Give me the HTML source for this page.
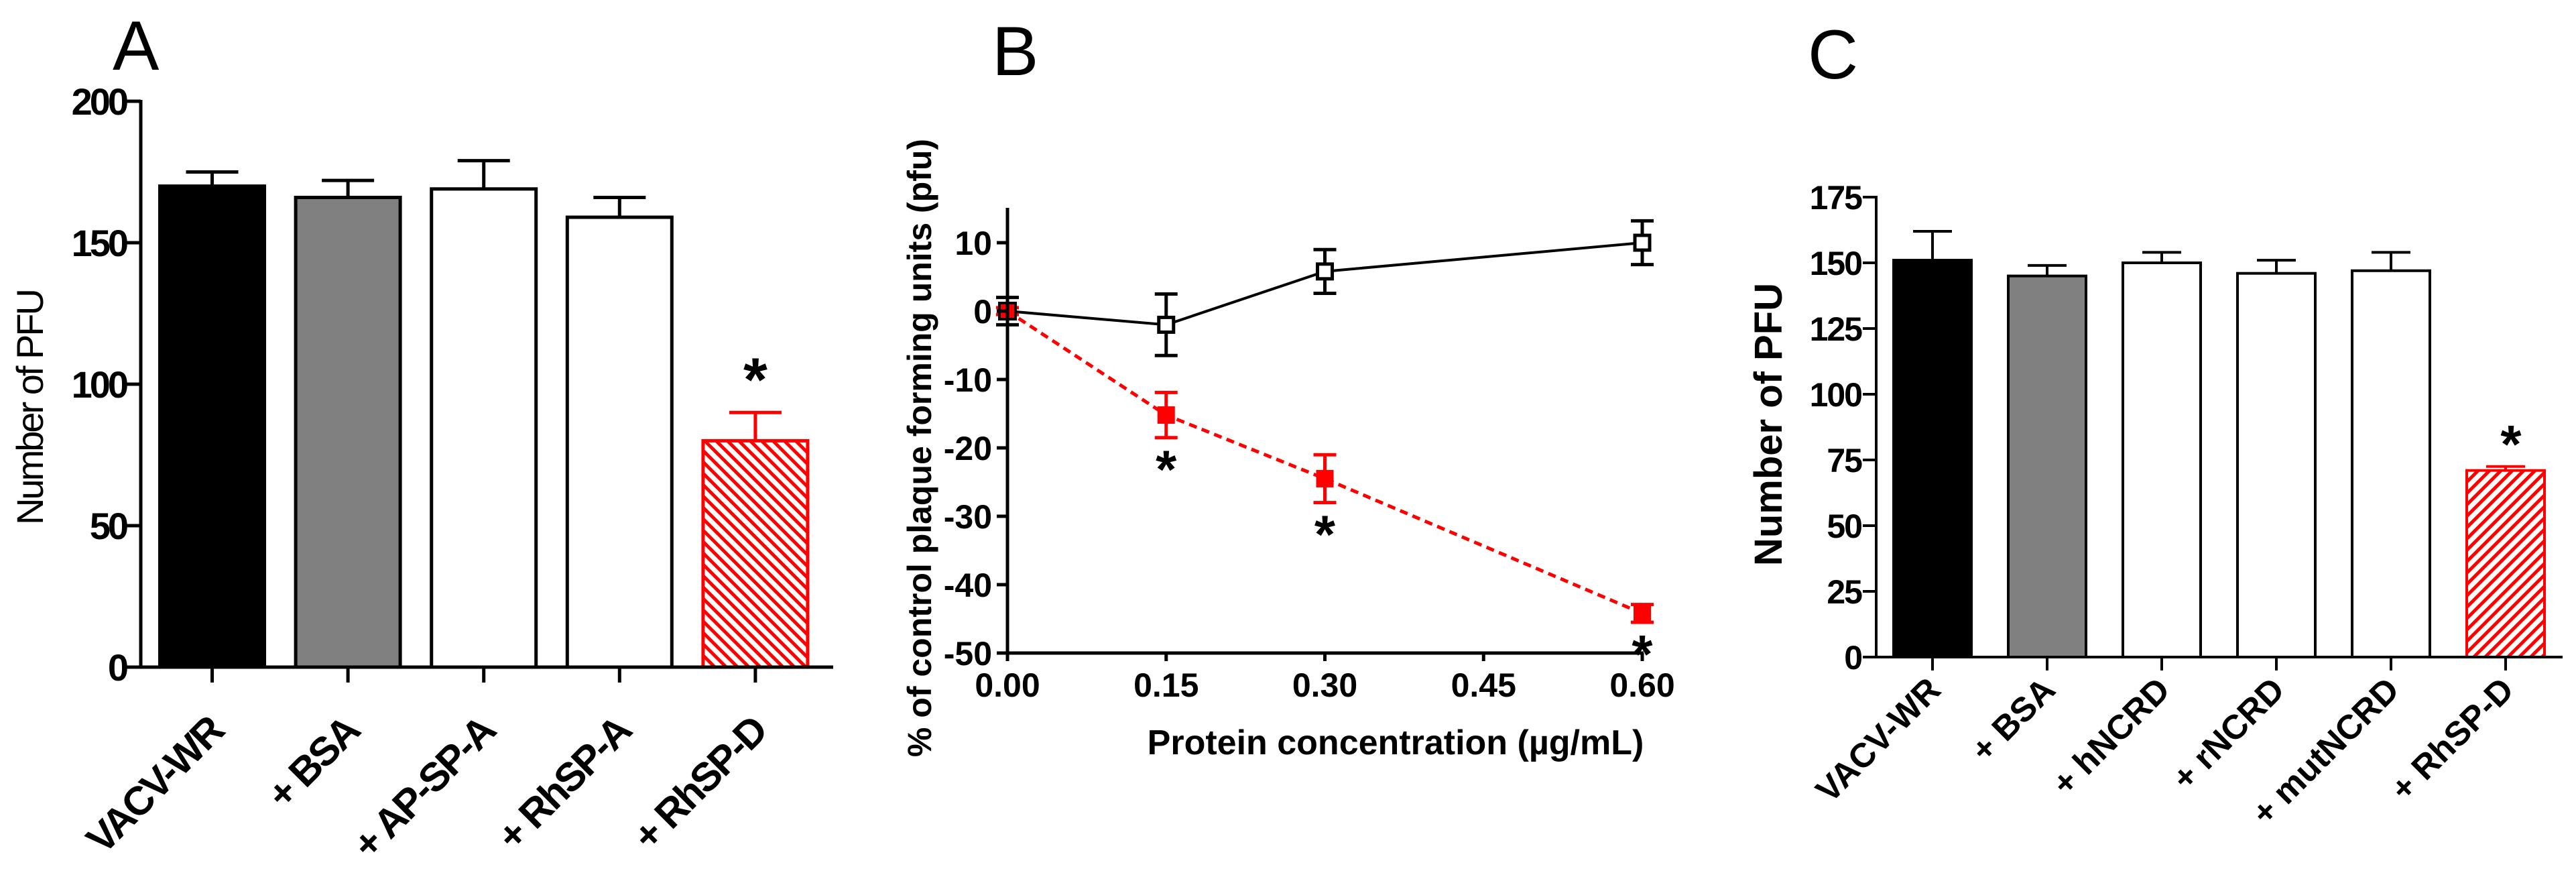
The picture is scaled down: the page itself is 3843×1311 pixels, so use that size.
<!DOCTYPE html>
<html><head><meta charset="utf-8"><style>
html,body{margin:0;padding:0;background:#fff;}
svg{display:block;font-family:"Liberation Sans",Arial,sans-serif;}
</style></head><body>
<svg id="fig" width="3843" height="1311" viewBox="0 0 3843 1311" xmlns="http://www.w3.org/2000/svg">
<defs>
<pattern id="hatchA" patternUnits="userSpaceOnUse" width="12" height="12" patternTransform="rotate(-45)">
<rect width="12" height="12" fill="#fff"/><rect width="5" height="12" fill="#f00"/></pattern>
<pattern id="hatchC" patternUnits="userSpaceOnUse" width="12" height="12" patternTransform="rotate(45)">
<rect width="12" height="12" fill="#fff"/><rect width="5" height="12" fill="#f00"/></pattern>
</defs>
<text x="168" y="104" font-size="104">A</text>
<text x="1480" y="112" font-size="104">B</text>
<text x="2697" y="117" font-size="104">C</text>
<g id="gA"></g>
<g id="gB"></g>
<g id="gC"></g>
</svg>
<script>
// Panel A data
const catsA = ["VACV-WR", "+ BSA", "+ AP-SP-A", "+ RhSP-A", "+ RhSP-D"];
const valsA = [170, 166, 169, 159, 80];
const errA = [5, 6, 10, 7, 10];
const ticksA = [0, 50, 100, 150, 200];
// Panel B data
const xB = [0, 0.15, 0.30, 0.60];
const ctrlB = [0, -2, 5.8, 10];
const ctrlErrB = [2, 4.5, 3.2, 3.2];
const spdB = [0, -15.2, -24.5, -44.2];
const spdErrB = [0.5, 3.3, 3.5, 1.3];
const xTicksB = ["0.00", "0.15", "0.30", "0.45", "0.60"];
const yTicksB = [10, 0, -10, -20, -30, -40, -50];
// Panel C data
const catsC = ["VACV-WR", "+ BSA", "+ hNCRD", "+ rNCRD", "+ mutNCRD", "+ RhSP-D"];
const valsC = [151, 145, 150, 146, 147, 71];
const errC = [11, 4, 4, 5, 7, 1.5];
const ticksC = [0, 25, 50, 75, 100, 125, 150, 175];

const NS = "http://www.w3.org/2000/svg";
function mk(parent, tag, attrs, text) {
  const e = document.createElementNS(NS, tag);
  for (const k in attrs) e.setAttribute(k, attrs[k]);
  if (text !== undefined) e.textContent = text;
  parent.appendChild(e);
  return e;
}
function line(p, x1, y1, x2, y2, c, w, name) {
  const e = mk(p, "line", {x1, y1, x2, y2, stroke: c, "stroke-width": w});
  
  
  return e;
}

// ---------- Panel A ----------
(function () {
  const g = document.getElementById("gA");
  const x0 = 210, y0 = 995, yTop = 151, xEnd = 1243;
  const yA = v => y0 - (v / 200) * (y0 - yTop);
  const cx = i => 316.5 + i * 202.6;
  const bw = 156;
  const fills = ["#000", "#808080", "#fff", "#fff", "url(#hatchA)"];
  const strokes = ["#000", "#000", "#000", "#000", "#f00"];
  valsA.forEach((v, i) => {
    const ey = yA(v + errA[i]);
    line(g, cx(i), yA(v), cx(i), ey, strokes[i], 5, "error-bar-a-" + i);
    line(g, cx(i) - 39, ey, cx(i) + 39, ey, strokes[i], 5, "error-cap-a-" + i);
    const r = mk(g, "rect", {x: cx(i) - bw / 2, y: yA(v), width: bw, height: y0 - yA(v), fill: fills[i], stroke: strokes[i], "stroke-width": 5});
    
    
    line(g, cx(i), y0, cx(i), 1018, "#000", 5, "x-tick-a-" + i);
    const t = mk(g, "text", {transform: `translate(${cx(i) + 20},${1094}) rotate(-45)`, "text-anchor": "end", "font-size": 60, "font-weight": "bold", "letter-spacing": "-3"}, catsA[i]);
    
    
  });
  line(g, x0, yTop - 2, x0, y0 + 2, "#000", 5, "y-axis-a");
  line(g, x0 - 2, y0, xEnd, y0, "#000", 5, "x-axis-a");
  ticksA.forEach(v => {
    line(g, x0 - 22, yA(v), x0, yA(v), "#000", 5, "y-tick-a");
    const t = mk(g, "text", {x: x0 - 22, y: yA(v) + 20, "text-anchor": "end", "font-size": 56, "font-weight": "bold", "letter-spacing": "-4"}, v);
    
    
  });
  const yt = mk(g, "text", {transform: "translate(64,608) rotate(-90)", "text-anchor": "middle", "font-size": 56, "letter-spacing": "-3"}, "Number of PFU");
  
  
  const s = mk(g, "text", {x: cx(4), y: 598, "text-anchor": "middle", "font-size": 92, "font-weight": "bold"}, "*");
  
  
})();

// ---------- Panel B ----------
(function () {
  const g = document.getElementById("gB");
  const x0 = 1503, xR = 2450, yZero = 464, pp = 10.2;
  const X = v => x0 + (v / 0.6) * (xR - x0);
  const Y = v => yZero - v * pp;
  const yBot = Y(-50);
  const pr = mk(g, "polyline", {points: xB.map((x, i) => X(x) + "," + Y(spdB[i])).join(" "), fill: "none", stroke: "#f00", "stroke-width": 5, "stroke-dasharray": "12,8"});
  
  
  const pb = mk(g, "polyline", {points: xB.map((x, i) => X(x) + "," + Y(ctrlB[i])).join(" "), fill: "none", stroke: "#000", "stroke-width": 4});
  
  
  xB.forEach((x, i) => {
    const px = X(x);
    line(g, px, Y(ctrlB[i] - ctrlErrB[i]), px, Y(ctrlB[i] + ctrlErrB[i]), "#000", 5, "error-bar-control-" + i);
    line(g, px - 17, Y(ctrlB[i] + ctrlErrB[i]), px + 17, Y(ctrlB[i] + ctrlErrB[i]), "#000", 5, "error-cap-control-" + i);
    line(g, px - 17, Y(ctrlB[i] - ctrlErrB[i]), px + 17, Y(ctrlB[i] - ctrlErrB[i]), "#000", 5, "error-cap-control-" + i);
    const m = mk(g, "rect", {x: px - 11, y: Y(ctrlB[i]) - 11, width: 22, height: 22, fill: "#fff", stroke: "#000", "stroke-width": 5});
    
    
  });
  xB.forEach((x, i) => {
    const px = X(x);
    line(g, px, Y(spdB[i] - spdErrB[i]), px, Y(spdB[i] + spdErrB[i]), "#f00", 5, "error-bar-rhsp-d-" + i);
    line(g, px - 17, Y(spdB[i] + spdErrB[i]), px + 17, Y(spdB[i] + spdErrB[i]), "#f00", 5, "error-cap-rhsp-d-" + i);
    line(g, px - 17, Y(spdB[i] - spdErrB[i]), px + 17, Y(spdB[i] - spdErrB[i]), "#f00", 5, "error-cap-rhsp-d-" + i);
    const m = mk(g, "rect", {x: px - 12, y: Y(spdB[i]) - 12, width: 24, height: 24, fill: "#f00", stroke: i === 0 ? "#000" : "#f00", "stroke-width": i === 0 ? 4 : 2});
    
    
    if (i > 0) {
      const s = mk(g, "text", {x: px, y: Math.min(Y(spdB[i] - spdErrB[i]) + 75, yBot + 35), "text-anchor": "middle", "font-size": 80, "font-weight": "bold"}, "*");
      
      
    }
  });
  line(g, x0, 310, x0, yBot + 2, "#000", 5, "y-axis-b");
  line(g, x0 - 2, yBot, xR + 2, yBot, "#000", 5, "x-axis-b");
  xTicksB.forEach((lab, i) => {
    const px = X(i * 0.15);
    line(g, px, yBot, px, yBot + 12, "#000", 5, "x-tick-b");
    const t = mk(g, "text", {x: px, y: 1039, "text-anchor": "middle", "font-size": 50, "font-weight": "bold"}, lab);
    
    
  });
  yTicksB.forEach(v => {
    line(g, x0 - 16, Y(v), x0, Y(v), "#000", 5, "y-tick-b");
    const t = mk(g, "text", {x: 1480, y: Y(v) + 18, "text-anchor": "end", "font-size": 50, "font-weight": "bold"}, v);
    
    
  });
  const xt = mk(g, "text", {x: 2082, y: 1125, "text-anchor": "middle", "font-size": 52, "font-weight": "bold"}, "Protein concentration (µg/mL)");
  
  
  const yt = mk(g, "text", {transform: "translate(1389,668) rotate(-90)", "text-anchor": "middle", "font-size": 50, "font-weight": "bold"}, "% of control plaque forming units (pfu)");
  
  
})();

// ---------- Panel C ----------
(function () {
  const g = document.getElementById("gC");
  const x0 = 2799, y0 = 980, xEnd = 3823;
  const Y = v => y0 - v * (98 / 25);
  const cx = i => 2883 + i * 171;
  const bw = 116;
  const fills = ["#000", "#808080", "#fff", "#fff", "#fff", "url(#hatchC)"];
  const strokes = ["#000", "#000", "#000", "#000", "#000", "#f00"];
  valsC.forEach((v, i) => {
    const ey = Y(v + errC[i]);
    line(g, cx(i), Y(v), cx(i), ey, strokes[i], 4, "error-bar-c-" + i);
    line(g, cx(i) - 29, ey, cx(i) + 29, ey, strokes[i], 4, "error-cap-c-" + i);
    const r = mk(g, "rect", {x: cx(i) - bw / 2, y: Y(v), width: bw, height: y0 - Y(v), fill: fills[i], stroke: strokes[i], "stroke-width": 4});
    
    
    line(g, cx(i), y0, cx(i), 1000, "#000", 4, "x-tick-c-" + i);
    const t = mk(g, "text", {transform: `translate(${cx(i) + 15},${1032}) rotate(-45)`, "text-anchor": "end", "font-size": 51, "font-weight": "bold"}, catsC[i]);
    
    
  });
  line(g, x0, 292, x0, y0 + 2, "#000", 4, "y-axis-c");
  line(g, x0 - 2, y0, xEnd, y0, "#000", 4, "x-axis-c");
  ticksC.forEach(v => {
    line(g, x0 - 20, Y(v), x0, Y(v), "#000", 4, "y-tick-c");
    const t = mk(g, "text", {x: x0 - 22, y: Y(v) + 18, "text-anchor": "end", "font-size": 50, "font-weight": "bold", "letter-spacing": "-2"}, v);
    
    
  });
  const yt = mk(g, "text", {transform: "translate(2658,633) rotate(-90)", "text-anchor": "middle", "font-size": 58, "font-weight": "bold"}, "Number of PFU");
  
  
  const s = mk(g, "text", {x: cx(5) + 8, y: 690, "text-anchor": "middle", "font-size": 80, "font-weight": "bold"}, "*");
  
  
})();
</script>
</body></html>
